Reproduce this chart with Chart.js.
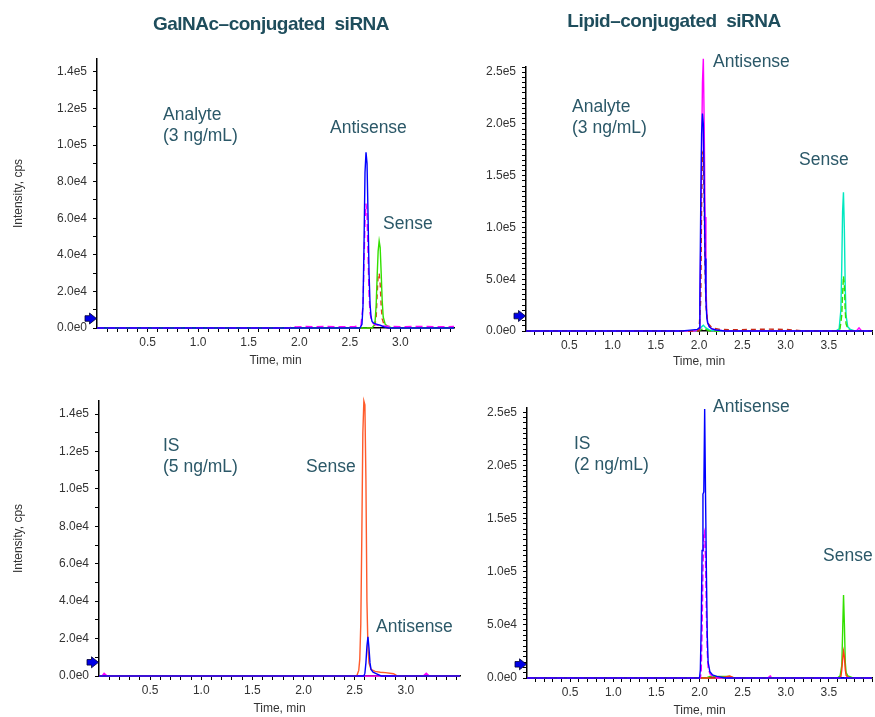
<!DOCTYPE html>
<html><head><meta charset="utf-8">
<script src="https://cdn.jsdelivr.net/npm/chart.js@4.4.1/dist/chart.umd.min.js"></script>
<style>
html,body{margin:0;padding:0;background:#fff;width:875px;height:717px;overflow:hidden;position:relative;}
canvas{position:absolute;left:0;top:0;}
.t{position:absolute;white-space:pre;font-family:Arial,"Liberation Sans",sans-serif;z-index:5;}
.title{font-weight:bold;font-size:19px;letter-spacing:-0.5px;color:#1E4D5C;text-align:center;width:400px;line-height:22px;}
.ann{font-size:17.5px;color:#2B5868;line-height:21px;}
</style></head><body>
<div class="t title" style="left:71px;top:13px;">GalNAc–conjugated  siRNA</div>
<div class="t title" style="left:474px;top:10px;">Lipid–conjugated  siRNA</div>

<div class="t ann" style="left:163px;top:104px;">Analyte
(3 ng/mL)</div>
<div class="t ann" style="left:330px;top:117px;">Antisense</div>
<div class="t ann" style="left:383px;top:213px;">Sense</div>

<div class="t ann" style="left:572px;top:96px;">Analyte
(3 ng/mL)</div>
<div class="t ann" style="left:713px;top:51px;">Antisense</div>
<div class="t ann" style="left:799px;top:149px;">Sense</div>

<div class="t ann" style="left:163px;top:435px;">IS
(5 ng/mL)</div>
<div class="t ann" style="left:306px;top:456px;">Sense</div>
<div class="t ann" style="left:376px;top:616px;">Antisense</div>

<div class="t ann" style="left:574px;top:433px;">IS
(2 ng/mL)</div>
<div class="t ann" style="left:713px;top:396px;">Antisense</div>
<div class="t ann" style="left:823px;top:545px;">Sense</div>

<script>
// ---------- tick labels ----------
const leftYMajor  = [0, 20000, 40000, 60000, 80000, 100000, 120000, 140000];
const rightYMajor = [0, 50000, 100000, 150000, 200000, 250000];
const leftXLabels  = [0.5, 1.0, 1.5, 2.0, 2.5, 3.0];
const rightXLabels = [0.5, 1.0, 1.5, 2.0, 2.5, 3.0, 3.5];

// ---------- Panel 1: GalNAc-conjugated siRNA, analyte (3 ng/mL) ----------
const galAnaBlueT = [0, 2.60, 2.62, 2.63, 2.64, 2.65, 2.66, 2.67, 2.68, 2.69, 2.70, 2.71, 2.72, 2.74, 2.77, 2.80, 2.84, 2.88, 3.53];
const galAnaBlueY = [0, 0, 2000, 12000, 45000, 85000, 96000, 90000, 62000, 30000, 13000, 6000, 3500, 2500, 2000, 1500, 600, 0, 0];
const galAnaMagT  = [0, 1.90, 1.93, 1.97, 2.05, 2.15, 2.25, 2.40, 2.55, 2.61, 2.63, 2.64, 2.65, 2.66, 2.67, 2.68, 2.69, 2.70, 2.72, 2.75, 2.80, 2.90, 3.05, 3.20, 3.35, 3.53];
const galAnaMagY  = [0, 0, 900, 600, 800, 700, 900, 700, 800, 1500, 12000, 35000, 58000, 68000, 62000, 40000, 18000, 8000, 3000, 1800, 1200, 900, 700, 900, 700, 800];
const galAnaGreenT = [0, 2.72, 2.74, 2.75, 2.76, 2.77, 2.78, 2.79, 2.80, 2.81, 2.82, 2.83, 2.85, 2.88, 2.92, 3.53];
const galAnaGreenY = [0, 0, 1500, 4000, 12000, 28000, 42000, 47500, 44000, 30000, 15000, 6000, 2000, 800, 0, 0];
const galAnaRedT  = [0, 2.74, 2.76, 2.77, 2.78, 2.79, 2.80, 2.81, 2.82, 2.84, 2.87, 3.53];
const galAnaRedY  = [0, 0, 5000, 18000, 29000, 30000, 24000, 12000, 5000, 1500, 0, 0];

// ---------- Panel 2: Lipid-conjugated siRNA, analyte (3 ng/mL) ----------
const lipAnaBlueT = [0, 1.80, 1.90, 1.98, 2.00, 2.01, 2.02, 2.03, 2.04, 2.05, 2.06, 2.07, 2.08, 2.09, 2.10, 2.12, 2.15, 2.20, 2.30, 4.0];
const lipAnaBlueY = [0, 0, 800, 1500, 3000, 30000, 120000, 190000, 210000, 200000, 140000, 70000, 30000, 13000, 8000, 4000, 2000, 1000, 0, 0];
const lipAnaMagT  = [0, 1.95, 2.00, 2.01, 2.02, 2.03, 2.04, 2.05, 2.06, 2.07, 2.08, 2.09, 2.10, 2.12, 2.15, 2.20, 2.30, 3.82, 3.85, 3.88, 4.0];
const lipAnaMagY  = [0, 0, 2000, 20000, 80000, 170000, 240000, 263000, 200000, 110000, 45000, 18000, 8000, 4000, 2000, 1000, 0, 0, 3000, 0, 0];
const lipAnaRedT  = [0, 2.00, 2.02, 2.03, 2.04, 2.05, 2.06, 2.07, 2.08, 2.10, 2.15, 2.25, 2.40, 2.60, 2.80, 3.00, 3.10, 3.20, 4.0];
const lipAnaRedY  = [0, 0, 30000, 120000, 172000, 170000, 120000, 60000, 25000, 8000, 3000, 1500, 1200, 1500, 1800, 1500, 1000, 0, 0];
const lipAnaCyanT = [0, 1.95, 2.00, 2.03, 2.05, 2.08, 2.12, 2.20, 3.58, 3.62, 3.64, 3.65, 3.66, 3.67, 3.68, 3.69, 3.70, 3.72, 3.75, 3.80, 4.0];
const lipAnaCyanY = [0, 0, 1000, 4000, 5500, 3000, 1000, 0, 0, 2000, 20000, 60000, 115000, 134000, 100000, 45000, 15000, 4000, 1500, 0, 0];
const lipAnaGreenT = [0, 1.98, 2.02, 2.05, 2.08, 2.12, 3.60, 3.63, 3.65, 3.66, 3.67, 3.68, 3.69, 3.70, 3.72, 3.75, 4.0];
const lipAnaGreenY = [0, 0, 1000, 2500, 1500, 0, 0, 2000, 15000, 35000, 53000, 45000, 20000, 7000, 2000, 0, 0];

// ---------- Panel 3: GalNAc-conjugated siRNA, IS (5 ng/mL) ----------
const galIsOrangeT = [0, 2.52, 2.54, 2.55, 2.56, 2.57, 2.58, 2.59, 2.60, 2.61, 2.62, 2.63, 2.64, 2.66, 2.70, 2.75, 2.80, 2.88, 2.92, 3.53];
const galIsOrangeY = [0, 0, 3000, 9000, 28000, 75000, 130000, 147000, 145000, 105000, 40000, 15000, 7000, 3500, 2500, 2000, 1800, 1200, 0, 0];
const galIsBlueT = [0, 2.59, 2.60, 2.61, 2.62, 2.63, 2.64, 2.65, 2.66, 2.68, 2.72, 2.76, 3.53];
const galIsBlueY = [0, 0, 1500, 7000, 16000, 21000, 15000, 7000, 3500, 2000, 1000, 0, 0];
const galIsMagT  = [0, 0.03, 0.05, 0.08, 3.17, 3.20, 3.23, 3.53];
const galIsMagY  = [0, 0, 1500, 0, 0, 1500, 0, 0];

// ---------- Panel 4: Lipid-conjugated siRNA, IS (2 ng/mL) ----------
const lipIsBlueT = [0, 2.00, 2.01, 2.02, 2.03, 2.04, 2.05, 2.06, 2.07, 2.08, 2.09, 2.10, 2.12, 2.15, 2.20, 2.30, 4.0];
const lipIsBlueY = [0, 0, 8000, 50000, 120000, 173000, 175000, 253000, 172000, 100000, 40000, 15000, 6000, 3000, 1500, 0, 0];
const lipIsMagT  = [0, 2.01, 2.02, 2.03, 2.04, 2.05, 2.06, 2.07, 2.08, 2.09, 2.10, 2.12, 2.15, 2.20, 2.79, 2.82, 2.85, 4.0];
const lipIsMagY  = [0, 0, 6000, 45000, 100000, 135000, 138000, 110000, 60000, 25000, 10000, 4000, 1500, 0, 0, 2000, 0, 0];
const lipIsGreenT = [0, 2.08, 2.12, 2.20, 2.30, 2.35, 2.40, 3.60, 3.63, 3.65, 3.66, 3.67, 3.68, 3.69, 3.70, 3.72, 3.75, 3.78, 4.0];
const lipIsGreenY = [0, 0, 1500, 1500, 1500, 1500, 0, 0, 2000, 12000, 45000, 78000, 50000, 15000, 5000, 2000, 1000, 0, 0];
const lipIsRedT  = [0, 2.20, 2.30, 2.35, 2.40, 3.62, 3.64, 3.65, 3.66, 3.67, 3.68, 3.69, 3.70, 3.72, 3.75, 4.0];
const lipIsRedY  = [0, 0, 1000, 2000, 0, 0, 1500, 8000, 18000, 25000, 20000, 8000, 2500, 800, 0, 0];

// ---------- helpers ----------
const FONT = 'Arial, "Liberation Sans", sans-serif';
const CW = 875, CH = 740;

function pts(T, Y) { return T.map((t, i) => ({x: t, y: Y[i]})); }
function trace(T, Y, color, dash) {
  return {data: pts(T, Y), borderColor: color, borderWidth: 1.4, borderDash: dash || [],
          pointRadius: 0, tension: 0, fill: false, clip: false};
}
function near(v, arr) { return arr.some(a => Math.abs(a - v) < 1e-6); }
function fmtY(v) { return v === 0 ? '0.0e0' : v.toExponential(1).replace('e+', 'e'); }
function stepTicks(start, step, max) {
  const out = [];
  for (let i = 0; ; i++) {
    const v = +(start + i * step).toFixed(6);
    if (v > max + 1e-9) break;
    out.push({value: v});
  }
  return out;
}
function arrowPlugin(offset) {
  return {
    id: 'arrowMarker',
    afterDraw(chart) {
      const {ctx, chartArea: a} = chart;
      const y = a.bottom - offset, x = a.left - 0.5;
      ctx.save();
      ctx.beginPath();
      ctx.moveTo(x, y);
      ctx.lineTo(x - 7, y - 5.5);
      ctx.lineTo(x - 7, y - 2.8);
      ctx.lineTo(x - 11.5, y - 2.8);
      ctx.lineTo(x - 11.5, y + 2.8);
      ctx.lineTo(x - 7, y + 2.8);
      ctx.lineTo(x - 7, y + 5.5);
      ctx.closePath();
      ctx.fillStyle = '#0000E6';
      ctx.fill();
      ctx.strokeStyle = '#000033';
      ctx.lineWidth = 0.8;
      ctx.stroke();
      ctx.restore();
    }
  };
}

function makePanel(cfg) {
  const canvas = document.createElement('canvas');
  canvas.width = CW; canvas.height = CH;
  canvas.style.width = CW + 'px'; canvas.style.height = CH + 'px';
  document.body.appendChild(canvas);
  const a = cfg.area;
  new Chart(canvas, {
    type: 'line',
    data: {datasets: cfg.datasets},
    options: {
      responsive: false, animation: false, events: [],
      layout: {padding: {left: a.left - cfg.yW, top: a.top, right: CW - a.right, bottom: CH - a.bottom - cfg.xH}},
      plugins: {legend: {display: false}, tooltip: {enabled: false}},
      scales: {
        x: {
          type: 'linear', min: 0, max: cfg.xMax,
          afterFit: s => { s.height = cfg.xH; },
          afterBuildTicks: s => { s.ticks = stepTicks(0.1, 0.1, cfg.xMax); },
          ticks: {autoSkip: false, maxRotation: 0, minRotation: 0, padding: 3,
                  callback: v => near(v, cfg.xLabels) ? v.toFixed(1) : '',
                  font: {size: 12, family: FONT}, color: '#333'},
          grid: {display: true, drawOnChartArea: false, drawTicks: true, tickLength: 4, tickColor: '#000', tickWidth: 1},
          border: {display: true, color: '#000', width: 1.5},
          title: {display: true, text: 'Time, min', font: {size: 12, family: FONT}, color: '#333', padding: 0}
        },
        y: {
          type: 'linear', min: 0, max: cfg.yMax,
          afterFit: s => { s.width = cfg.yW; },
          afterBuildTicks: s => { s.ticks = stepTicks(0, cfg.yMinor, cfg.yMax); },
          ticks: {autoSkip: false, padding: 6,
                  callback: v => near(v, cfg.yMajor) ? fmtY(v) : '',
                  font: {size: 12, family: FONT}, color: '#333'},
          grid: {display: true, drawOnChartArea: false, drawTicks: true, tickLength: 4, tickColor: '#000', tickWidth: 1},
          border: {display: true, color: '#000', width: 1.5},
          title: {display: cfg.yTitle, text: 'Intensity, cps', font: {size: 12, family: FONT}, color: '#333', padding: 0}
        }
      }
    },
    plugins: [arrowPlugin(cfg.arrowOffset)]
  });
}

// Panel 1
makePanel({
  area: {left: 97, top: 59, right: 454, bottom: 328}, yW: 86, xH: 40,
  xMax: 3.53, xLabels: leftXLabels, yMax: 147000, yMinor: 10000, yMajor: leftYMajor, yTitle: true, arrowOffset: 9.5,
  datasets: [
    trace(galAnaBlueT, galAnaBlueY, '#0000FF'),
    trace(galAnaMagT, galAnaMagY, '#FF00FF', [7, 4]),
    trace(galAnaGreenT, galAnaGreenY, '#33E000'),
    trace(galAnaRedT, galAnaRedY, '#E0401A', [5, 4])
  ]
});
// Panel 2
makePanel({
  area: {left: 526, top: 67, right: 872, bottom: 331}, yW: 60, xH: 38,
  xMax: 4.0, xLabels: rightXLabels, yMax: 255000, yMinor: 5000, yMajor: rightYMajor, yTitle: false, arrowOffset: 15,
  datasets: [
    trace(lipAnaBlueT, lipAnaBlueY, '#0000FF'),
    trace(lipAnaRedT, lipAnaRedY, '#C8281A', [5, 4]),
    trace(lipAnaMagT, lipAnaMagY, '#FF00FF'),
    trace(lipAnaGreenT, lipAnaGreenY, '#33E000', [6, 3]),
    trace(lipAnaCyanT, lipAnaCyanY, '#00E8C0')
  ]
});
// Panel 3
makePanel({
  area: {left: 99, top: 401, right: 460, bottom: 676}, yW: 88, xH: 40,
  xMax: 3.53, xLabels: leftXLabels, yMax: 147000, yMinor: 10000, yMajor: leftYMajor, yTitle: true, arrowOffset: 13.7,
  datasets: [
    trace(galIsBlueT, galIsBlueY, '#0000FF'),
    trace(galIsOrangeT, galIsOrangeY, '#FF5A2A'),
    trace(galIsMagT, galIsMagY, '#FF00FF')
  ]
});
// Panel 4
makePanel({
  area: {left: 527, top: 408, right: 872, bottom: 678}, yW: 60, xH: 40,
  xMax: 4.0, xLabels: rightXLabels, yMax: 254000, yMinor: 5000, yMajor: rightYMajor, yTitle: false, arrowOffset: 13.7,
  datasets: [
    trace(lipIsBlueT, lipIsBlueY, '#0000FF'),
    trace(lipIsMagT, lipIsMagY, '#FF00FF', [7, 3]),
    trace(lipIsRedT, lipIsRedY, '#FF3A10'),
    trace(lipIsGreenT, lipIsGreenY, '#33E000')
  ]
});
</script>
</body></html>
